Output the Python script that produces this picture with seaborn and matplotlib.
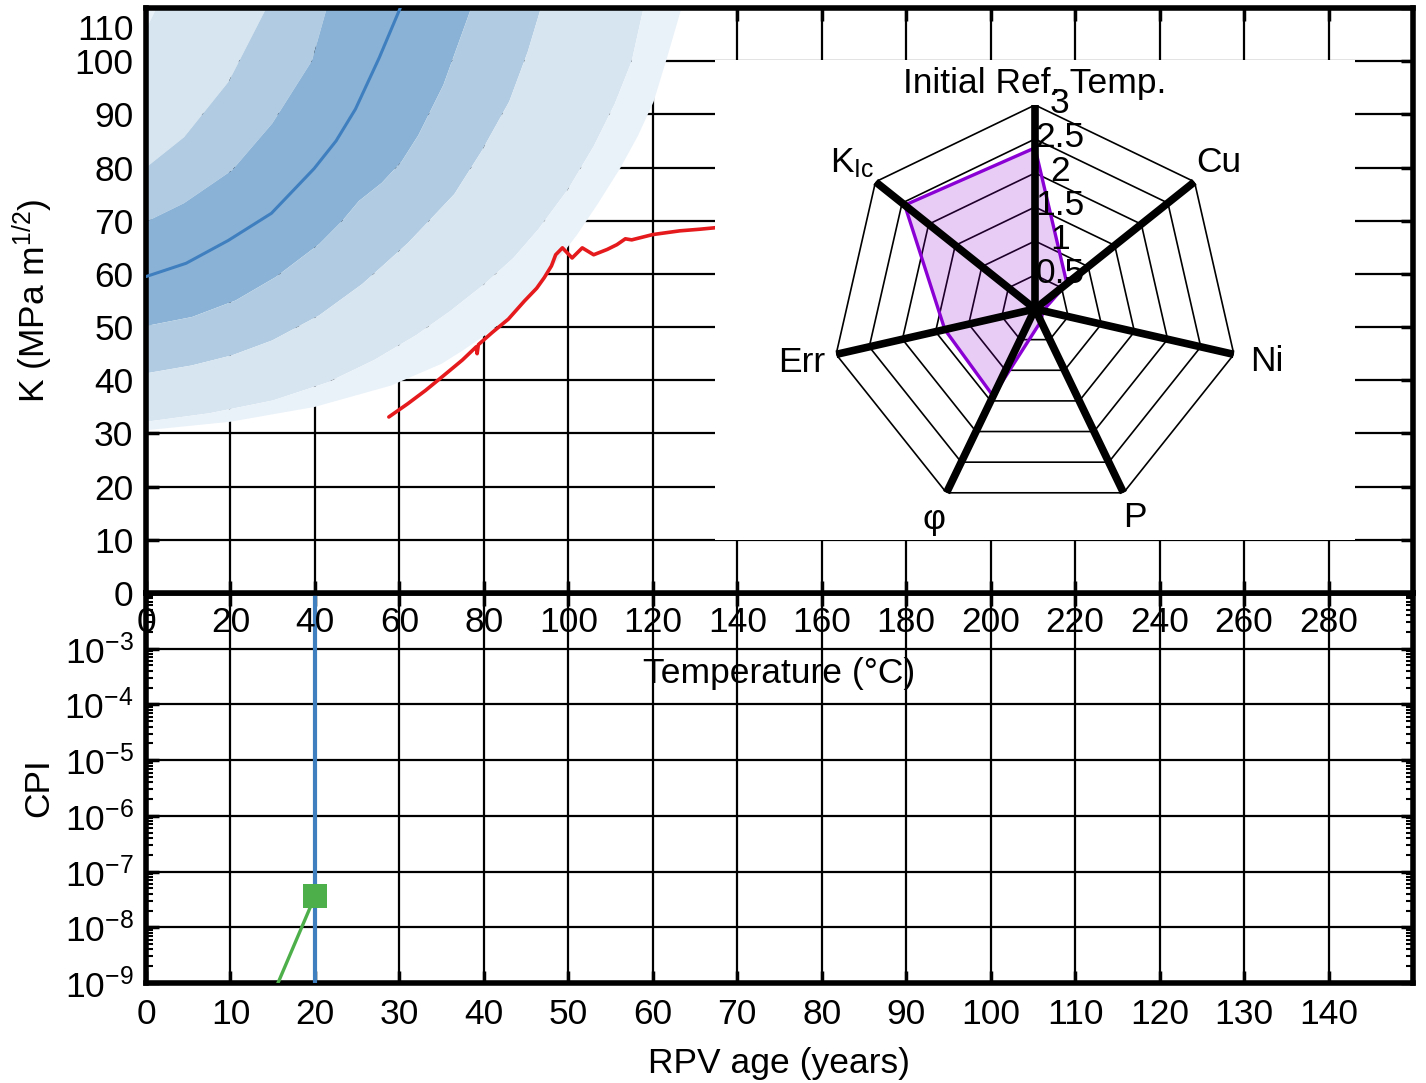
import numpy as np
import matplotlib
matplotlib.use("Agg")
import matplotlib.pyplot as plt
import matplotlib.transforms as mtransforms
from matplotlib.ticker import FixedLocator, LogLocator, NullLocator, LogFormatterSciNotation, NullFormatter
import seaborn as sns

# ---------------- fracture toughness scatter bands (T in °C, K in MPa m^1/2) ----------------
median_T = [0, 9.5, 19.5, 29.7, 39.8, 45.0, 49.6, 55.2, 60.2]
median_K = [59.5, 62.0, 66.3, 71.4, 79.8, 85.0, 91.0, 100.6, 110.0]

upper99_T = [0, 2.5]
upper99_K = [106.0, 110.0]
upper95_T = [0, 9.0, 19.6, 28.5]
upper95_K = [80.0, 85.7, 96.2, 110.0]
upper75_T = [0, 9.0, 20.4, 29.9, 39.3, 42.8]
upper75_K = [69.8, 73.3, 79.5, 88.3, 100.1, 110.0]
lower25_T = [0, 10.9, 21.2, 30.7, 41.0, 46.5, 50.4, 55.8, 60.5, 64.5, 70.4, 77.0]
lower25_K = [50.2, 51.9, 55.0, 59.4, 65.6, 70.0, 73.7, 77.1, 81.1, 86.1, 95.5, 110.0]
lower05_T = [0, 10.9, 20.4, 29.9, 41.0, 51.2, 56.0, 62.0, 68.0, 73.0, 79.4, 86.0, 90.4, 93.5]
lower05_K = [41.3, 42.8, 44.7, 47.5, 52.2, 58.1, 61.5, 65.8, 70.8, 75.0, 83.0, 92.4, 101.8, 110.0]
lower01_T = [0, 15, 30, 43, 54, 64, 72, 80, 87, 93, 100, 106, 111, 115, 117.8]
lower01_K = [32.2, 33.8, 36.2, 39.6, 43.8, 48.5, 53.0, 58.0, 63.0, 68.5, 76.0, 84.0, 92.0, 100.0, 110.0]
lower001_T = [0, 20, 40, 58, 70, 75, 80, 85, 89.6, 95, 102.1, 107, 112.3, 116.5, 120.2, 123.5, 126.8]
lower001_K = [30.6, 32.2, 35.0, 39.0, 43.1, 45.6, 48.3, 51.4, 54.9, 60.0, 67.4, 73.2, 79.9, 86.0, 92.4, 101.0, 110.0]

# measured toughness curve
meas_T = [57.5, 62, 66.2, 70.5, 74.9, 78.2, 78.4, 78.7, 82, 85.8, 89.6, 92.5, 94.3, 96, 97,
          98.6, 100.9, 103.3, 106, 109.2, 111.5, 113.5, 115, 120, 126.4, 131.1, 135]
meas_K = [33.1, 35.6, 38.1, 40.9, 43.8, 46.3, 45.0, 46.7, 49.0, 51.5, 54.9, 57.3, 59.3, 61.5, 63.6,
          64.9, 63.0, 64.9, 63.6, 64.6, 65.5, 66.6, 66.4, 67.4, 68.1, 68.4, 68.7]

temp_ticks = list(range(0, 300, 20))
k_ticks = list(range(0, 120, 10))

# ---------------- conditional probability of initiation vs. age ----------------
age_years = [15.0, 20.0]
cpi_values = [6.0e-10, 3.6e-8]
current_age = 20
age_ticks = list(range(0, 150, 10))
cpi_ticks = [1e-9, 1e-8, 1e-7, 1e-6, 1e-5, 1e-4, 1e-3]

# ---------------- radar of input parameters ----------------
radar_names = ["Initial Ref. Temp.", "Cu", "Ni", "P", "φ", "Err", r"K$_\mathregular{Ic}$"]
radar_values = [2.37, 0.6, 0.12, 0.2, 1.42, 1.36, 2.45]
radar_rings = [0.5, 1, 1.5, 2, 2.5, 3]

# ---------------- style ----------------
sns.set_theme(style="white")
plt.rcParams["font.family"] = ["Liberation Sans", "DejaVu Sans"]
plt.rcParams["mathtext.fontset"] = "custom"
plt.rcParams["mathtext.rm"] = "Liberation Sans"
plt.rcParams["mathtext.it"] = "Liberation Sans:italic"
plt.rcParams["axes.unicode_minus"] = True
plt.rcParams["text.color"] = "black"
plt.rcParams["axes.labelcolor"] = "black"
plt.rcParams["xtick.color"] = "black"
plt.rcParams["ytick.color"] = "black"

FS = 25.5
band_dark = "#8ab2d6"
band_mid = "#b1cce2"
band_light = "#d7e5f1"
band_vlight = "#eaf2f9"
line_blue = "#3f7fbf"
red = "#e41a1c"
green = "#4daf4a"

W, H = 1426, 1083
fig = plt.figure(figsize=(W / 100, H / 100), dpi=100)

def frac(x0, y0, x1, y1):
    return [x0 / W, 1 - y1 / H, (x1 - x0) / W, (y1 - y0) / H]

ax_low = fig.add_axes(frac(146, 593, 1413, 983))
ax_top = fig.add_axes(frac(146, 8, 1413, 593))
ax_low.set_zorder(0)
ax_top.set_zorder(1)

for ax in (ax_top, ax_low):
    ax.set_facecolor("white")
    for s in ax.spines.values():
        s.set_visible(True)
        s.set_color("black")
        s.set_linewidth(4)
    ax.set_axisbelow(True)
    ax.grid(True, which="major", color="black", linewidth=1.6)
    ax.tick_params(which="major", direction="in", length=9, width=2.5, color="black",
                   top=True, right=True, bottom=True, left=True, labelsize=FS,
                   labelcolor="black", pad=9)

# ---- top panel: toughness vs temperature ----
def band(lo_T, lo_K, hi_T, hi_K, color):
    xs = list(lo_T) + list(hi_T)[::-1]
    ys = list(lo_K) + list(hi_K)[::-1]
    ax_top.fill(xs, ys, color=color, linewidth=0, zorder=1)

band(upper99_T, upper99_K, [0], [110.0], band_vlight)
band(upper95_T, upper95_K, upper99_T, upper99_K, band_light)
band(upper75_T, upper75_K, upper95_T, upper95_K, band_mid)
band(lower25_T, lower25_K, upper75_T, upper75_K, band_dark)
band(lower05_T, lower05_K, lower25_T, lower25_K, band_mid)
band(lower01_T, lower01_K, lower05_T, lower05_K, band_light)
band(lower001_T, lower001_K, lower01_T, lower01_K, band_vlight)

sns.lineplot(x=median_T, y=median_K, ax=ax_top, color=line_blue, linewidth=2.2,
             estimator=None, sort=False, zorder=3)
sns.lineplot(x=meas_T, y=meas_K, ax=ax_top, color=red, linewidth=2.6,
             estimator=None, sort=False, zorder=3)

ax_top.set_xlim(0, 300)
ax_top.set_ylim(0, 110)
ax_top.xaxis.set_major_locator(FixedLocator(temp_ticks))
ax_top.yaxis.set_major_locator(FixedLocator(k_ticks))
ax_top.set_xlabel("Temperature (°C)", fontsize=FS)
ax_top.set_ylabel(r"K (MPa m$^\mathregular{1/2}$)", fontsize=FS)
ax_top.xaxis.set_label_coords(0.5, -0.11)
ax_top.yaxis.set_label_coords(-0.072, 0.5)

# the top tick label sits just inside the frame
top_tick = ax_top.yaxis.get_major_ticks()[-1]
top_tick.label1.set_transform(top_tick.label1.get_transform()
                              + mtransforms.ScaledTranslation(0, -0.19, fig.dpi_scale_trans))

# ---- bottom panel: CPI vs age ----
ax_low.set_yscale("log")
ax_low.axvline(current_age, color=line_blue, linewidth=3, zorder=3)
sns.lineplot(x=age_years, y=cpi_values, ax=ax_low, color=green, linewidth=2.4,
             estimator=None, sort=False, zorder=4)
sns.scatterplot(x=age_years[-1:], y=cpi_values[-1:], ax=ax_low, marker="s", s=300,
                color=green, edgecolor="none", zorder=5)
ax_low.set_xlim(0, 150)
ax_low.set_ylim(1e-9, 1e-2)
ax_low.xaxis.set_major_locator(FixedLocator(age_ticks))
ax_low.xaxis.set_minor_locator(NullLocator())
ax_low.yaxis.set_major_locator(FixedLocator(cpi_ticks))
ax_low.yaxis.set_major_formatter(LogFormatterSciNotation())
ax_low.yaxis.set_minor_locator(LogLocator(base=10, subs=np.arange(2, 10), numticks=30))
ax_low.yaxis.set_minor_formatter(NullFormatter())
ax_low.tick_params(which="minor", direction="in", length=5, width=1.5, color="black",
                   left=True, right=True, bottom=False, top=False)
ax_low.tick_params(axis="x", pad=11)
ax_low.set_xlabel("RPV age (years)", fontsize=FS)
ax_low.set_ylabel("CPI", fontsize=FS)
ax_low.xaxis.set_label_coords(0.5, -0.165)
ax_low.yaxis.set_label_coords(-0.072, 0.5)

# ---- radar inset on a white card ----
ax_card = fig.add_axes(frac(715, 60, 1355, 540))
ax_card.set_zorder(2)
ax_card.set_facecolor("white")
ax_card.set_xticks([])
ax_card.set_yticks([])
for s in ax_card.spines.values():
    s.set_visible(False)

cx, cy, R = 1035, 309, 204
ax_r = fig.add_axes(frac(cx - R, cy - R, cx + R, cy + R), projection="polar")
ax_r.set_zorder(3)
ax_r.set_facecolor("none")
ax_r.set_theta_zero_location("N")
ax_r.set_theta_direction(-1)
ax_r.grid(False)
ax_r.spines["polar"].set_visible(False)
ax_r.set_xticks([])
ax_r.set_yticks([])
ax_r.set_ylim(0, 3)

n = len(radar_names)
theta = np.arange(n) * 2 * np.pi / n
theta_c = np.r_[theta, theta[0]]

for r in radar_rings:
    ax_r.plot(theta_c, [r] * (n + 1), color="black", linewidth=1.2, zorder=2)

vals_c = np.r_[radar_values, radar_values[0]]
ax_r.fill(theta_c, vals_c, color="#9400d3", alpha=0.2, linewidth=0, zorder=3)
ax_r.plot(theta_c, vals_c, color="#8a00d4", linewidth=2.4, zorder=4)

for t in theta:
    ax_r.plot([t, t], [0, 3], color="black", linewidth=5.5, solid_capstyle="butt", zorder=5)

label_r = [3.32, 3.45, 3.5, 3.4, 3.44, 3.52, 3.43]
for t, name, lr in zip(theta, radar_names, label_r):
    ax_r.text(t, lr, name, ha="center", va="center", fontsize=FS, color="black", zorder=6)

for r in radar_rings:
    ax_r.annotate(f"{r:g}", xy=(0, r), xytext=(18, 1), textcoords="offset points",
                  ha="center", va="center", fontsize=FS, color="black", zorder=6,
                  annotation_clip=False)

fig.savefig("out.png", dpi=100)
